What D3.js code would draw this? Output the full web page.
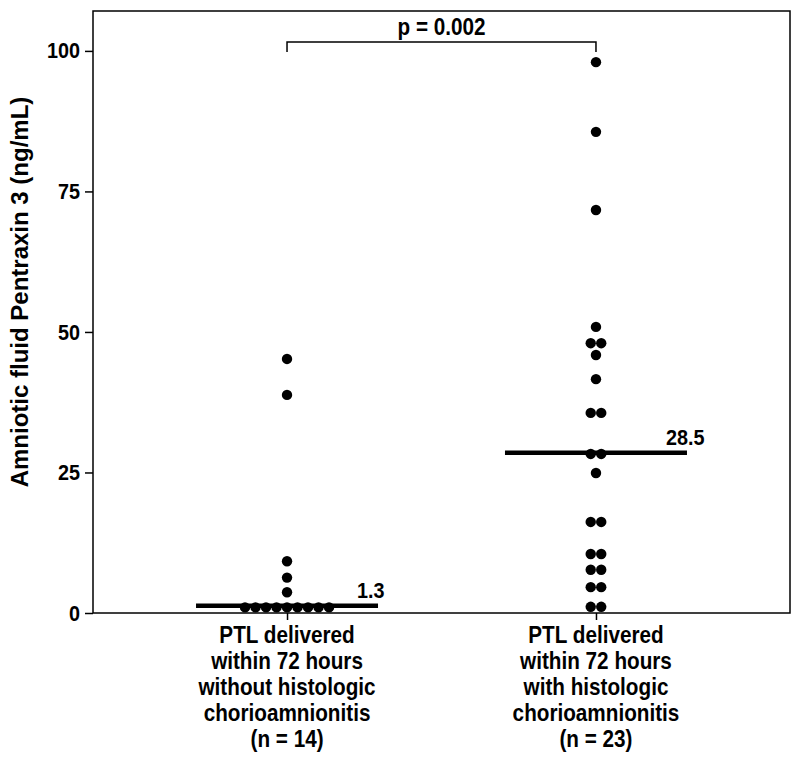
<!DOCTYPE html>
<html>
<head>
<meta charset="utf-8">
<script src="https://cdn.jsdelivr.net/npm/d3@7"></script>
<style>
  html, body { margin: 0; padding: 0; background: #fff; }
  svg text { font-family: "Liberation Sans", Arial, Helvetica, sans-serif; font-weight: bold; fill: #000; }
</style>
</head>
<body>
<svg id="chart" width="800" height="760"></svg>
<script>
// ---- data ----
const groups = ["without", "with"];
const groupLabels = [
  ["PTL delivered", "within 72 hours", "without histologic", "chorioamnionitis", "(n = 14)"],
  ["PTL delivered", "within 72 hours", "with histologic", "chorioamnionitis", "(n = 23)"]
];
const withoutChorio = [45.2, 38.8, 9.2, 6.3, 3.7, 1.0, 1.0, 1.0, 1.0, 1.0, 1.0, 1.0, 1.0, 1.0];
const withChorio = [98.0, 85.6, 71.7, 50.9, 48.0, 48.0, 45.9, 41.6, 35.6, 35.6, 28.3, 28.3, 24.9,
                    16.2, 16.2, 10.5, 10.5, 7.7, 7.7, 4.6, 4.6, 1.1, 1.1];
const medians = [1.3, 28.5];
const medianLabels = ["1.3", "28.5"];
const yTicks = [0, 25, 50, 75, 100];
const pLabel = "p = 0.002";
const yTitle = "Amniotic fluid Pentraxin 3 (ng/mL)";

const series = [withoutChorio, withChorio];

// ---- layout ----
const svg = d3.select("#chart");
const pLeft = 93, pRight = 790, pTop = 11, pBottom = 613;
const SX = 0.9; // horizontal glyph compression

const x = d3.scalePoint().domain(groups).range([pLeft, pRight]).padding(0.628);
const y = d3.scaleLinear().domain([0, 107.1]).range([pBottom, pTop]);

function label(px, py, txt, size, anchor) {
  return svg.append("text")
    .attr("transform", `translate(${px},${py}) scale(${SX},1)`)
    .attr("text-anchor", anchor || "start")
    .style("font-size", size + "px")
    .text(txt);
}

// frame
svg.append("rect")
  .attr("x", pLeft).attr("y", pTop)
  .attr("width", pRight - pLeft).attr("height", pBottom - pTop)
  .attr("fill", "none").attr("stroke", "#000").attr("stroke-width", 1.5);

// y axis
const yAxis = svg.append("g")
  .attr("transform", `translate(${pLeft},0)`)
  .call(d3.axisLeft(y).tickValues(yTicks).tickSize(8).tickPadding(5).tickFormat(d3.format("d")));
yAxis.select(".domain").remove();
yAxis.selectAll(".tick line").attr("stroke", "#000").attr("stroke-width", 1.5);
yAxis.selectAll(".tick text")
  .attr("x", 0)
  .attr("transform", `translate(-13,0) scale(${SX},1)`)
  .style("font-size", "22px").style("font-weight", "bold")
  .style("font-family", "'Liberation Sans', Arial, sans-serif").attr("fill", "#000");

// x axis ticks
const xAxis = svg.append("g")
  .attr("transform", `translate(0,${pBottom})`)
  .call(d3.axisBottom(x).tickSize(7).tickFormat(""));
xAxis.select(".domain").remove();
xAxis.selectAll(".tick line").attr("stroke", "#000").attr("stroke-width", 1.5);

// x labels (multi-line)
groups.forEach((g, i) => {
  const t = svg.append("text")
    .attr("transform", `translate(${x(g)},0) scale(${SX},1)`)
    .attr("text-anchor", "middle")
    .style("font-size", "23px");
  groupLabels[i].forEach((line, j) => {
    t.append("tspan").attr("x", 0).attr("y", 643 + j * 26).text(line);
  });
});

// y title
svg.append("text")
  .attr("transform", `translate(28,292) rotate(-90)`)
  .attr("text-anchor", "middle")
  .style("font-size", "24px")
  .text(yTitle);

// median lines
const halfLen = 91;
groups.forEach((g, i) => {
  svg.append("line")
    .attr("x1", x(g) - halfLen).attr("x2", x(g) + halfLen)
    .attr("y1", y(medians[i])).attr("y2", y(medians[i]))
    .attr("stroke", "#000").attr("stroke-width", 4.5);
  label(x(g) + halfLen - 21, y(medians[i]) - 8, medianLabels[i], 22);
});

// dots: spread identical values horizontally
const spacing = 10.5, r = 5.2;
groups.forEach((g, i) => {
  const byVal = d3.group(series[i], v => v);
  const pts = [];
  byVal.forEach((arr, v) => {
    arr.forEach((_, k) => pts.push({ v, off: (k - (arr.length - 1) / 2) * spacing }));
  });
  svg.append("g").selectAll("circle").data(pts).join("circle")
    .attr("cx", d => x(g) + d.off)
    .attr("cy", d => y(d.v))
    .attr("r", r)
    .attr("fill", "#000");
});

// significance bracket
const by = 42, bDrop = 10;
svg.append("path")
  .attr("d", `M${x(groups[0])},${by + bDrop}V${by}H${x(groups[1])}V${by + bDrop}`)
  .attr("fill", "none").attr("stroke", "#000").attr("stroke-width", 1.5);
label((x(groups[0]) + x(groups[1])) / 2, 35, pLabel, 23, "middle");
</script>
</body>
</html>
